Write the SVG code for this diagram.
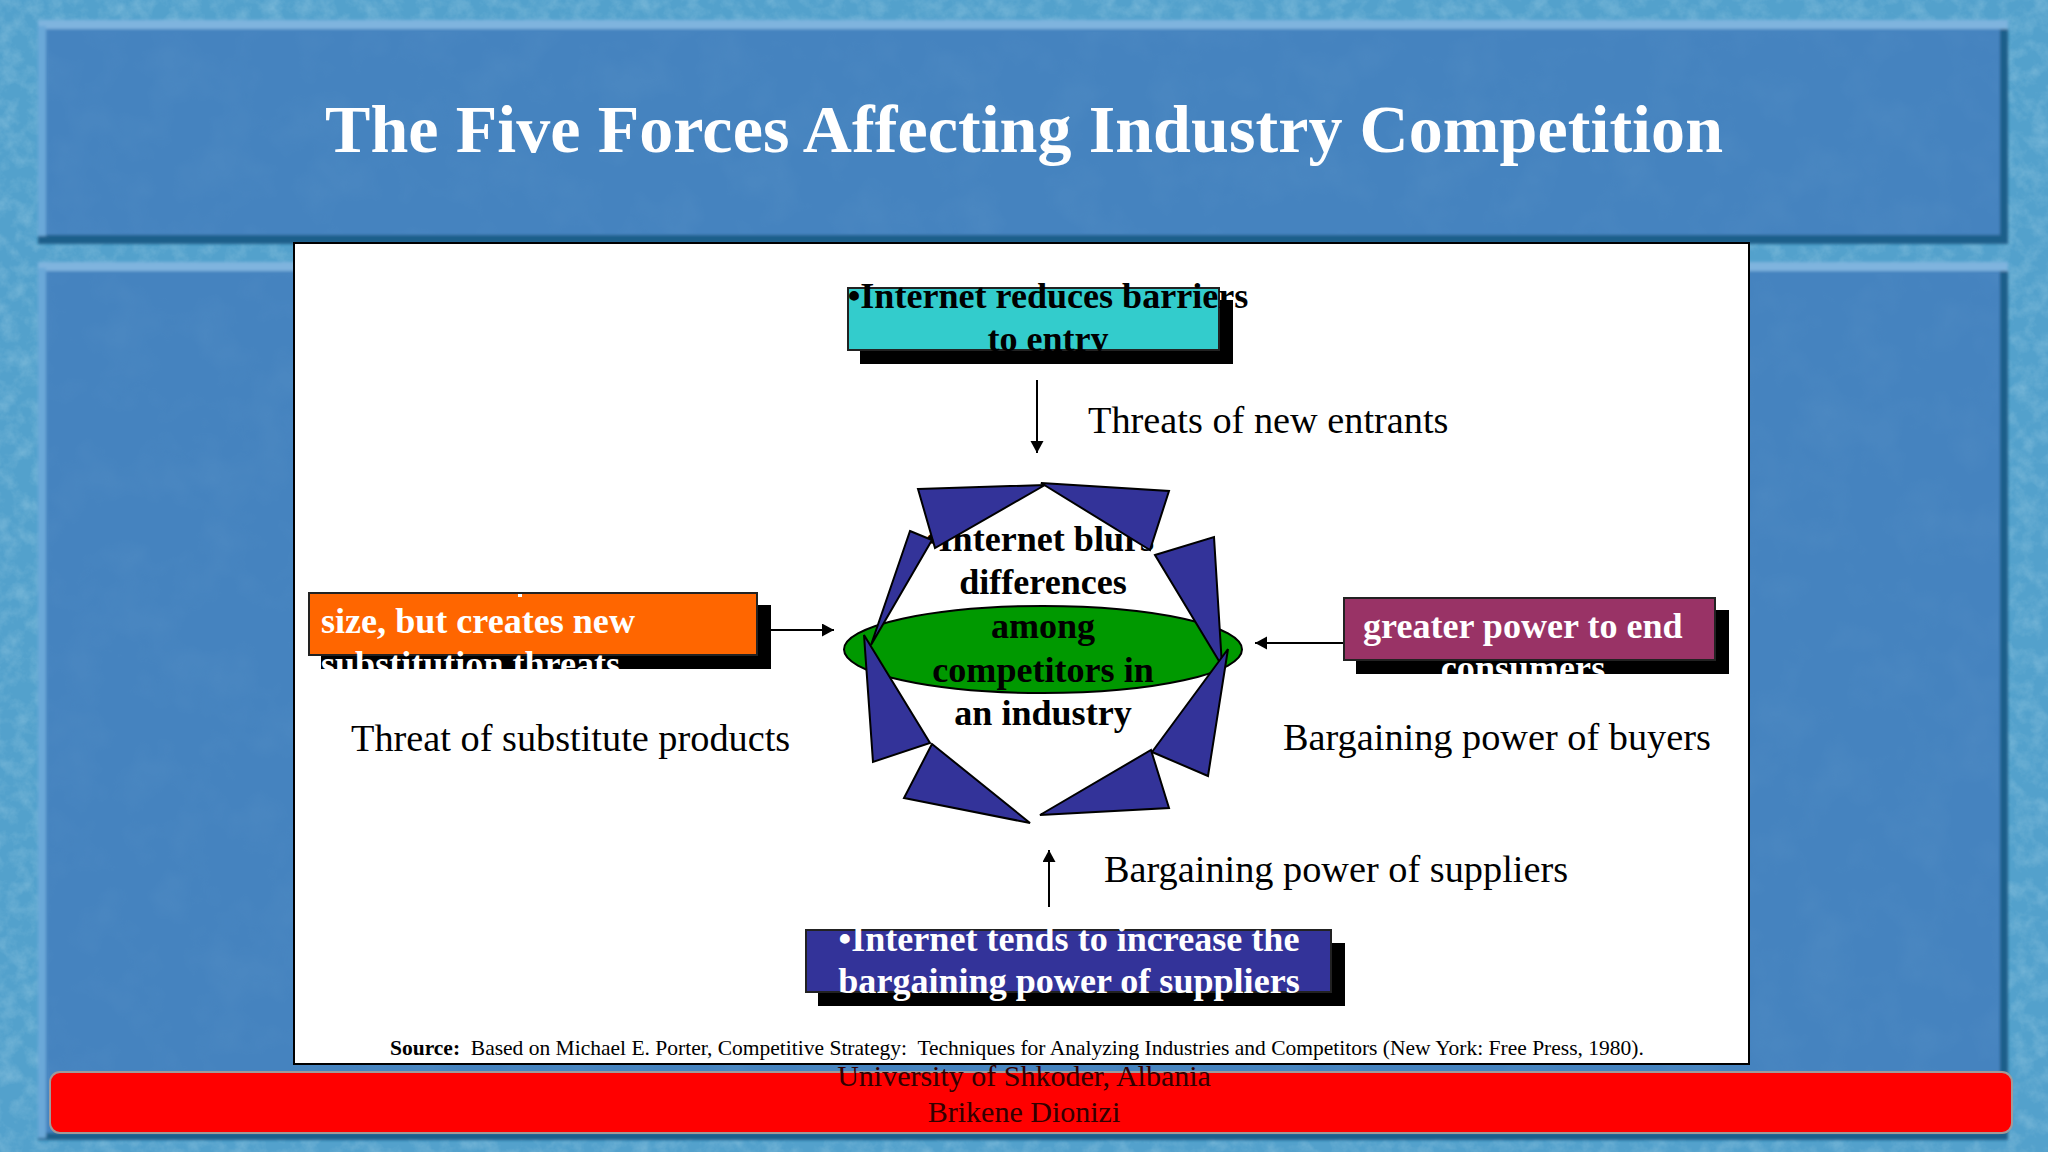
<svg xmlns="http://www.w3.org/2000/svg" width="2048" height="1152" viewBox="0 0 2048 1152">
<style>
text{font-family:"Liberation Serif","Times New Roman",serif}
.b{font-weight:bold;font-size:36.1px}
.w{fill:#fff}
.k{fill:#000}
.m{text-anchor:middle}
.l{font-size:38.3px;fill:#000}
.sh{fill:#000}
.box{stroke:#222;stroke-width:2}
.tri{fill:#333399;stroke:#000;stroke-width:2;stroke-linejoin:miter}
.conn{stroke:#000;stroke-width:2;fill:none;marker-end:url(#arrow)}
</style>
<defs>
<marker id="arrow" markerUnits="userSpaceOnUse" markerWidth="13" markerHeight="14" refX="12" refY="6.5" orient="auto"><path d="M0 0L12 6.5L0 13Z" fill="#000"/></marker>
<filter id="tex" x="0" y="0" width="100%" height="100%"><feTurbulence type="fractalNoise" baseFrequency="0.06" numOctaves="4" seed="7"/><feColorMatrix values="0 0 0 0 0.55  0 0 0 0 0.78  0 0 0 0 0.88  1.4 0 0 0 -0.55"/></filter>
<filter id="tex2" x="0" y="0" width="100%" height="100%"><feTurbulence type="fractalNoise" baseFrequency="0.02" numOctaves="3" seed="3"/><feColorMatrix values="0 0 0 0 0.2  0 0 0 0 0.42  0 0 0 0 0.66  1.2 0 0 0 -0.5"/></filter>
<filter id="soft" x="-2%" y="-2%" width="104%" height="104%"><feGaussianBlur stdDeviation="1.8"/></filter>
</defs>
<g id="background">
<rect width="2048" height="1152" fill="#53a1cc"/>
<rect width="2048" height="1152" filter="url(#tex)" opacity="0.4"/>
<g filter="url(#soft)">
<rect x="38" y="22" width="1970" height="222" fill="#1f5f8a"/>
<rect x="38" y="262" width="1970" height="878" fill="#1f5f8a"/>
<rect x="38" y="20" width="1970" height="9" fill="#7fb4de"/>
<rect x="38" y="262" width="1970" height="9" fill="#7fb4de"/>
<rect x="38" y="26" width="8" height="210" fill="#6aa8d8"/>
<rect x="38" y="268" width="8" height="870" fill="#6aa8d8"/>
<rect x="46" y="29" width="1954" height="206" fill="#4583bf"/>
<rect x="46" y="271" width="1954" height="862" fill="#4583bf"/>
</g>
<rect x="48" y="32" width="1950" height="202" filter="url(#tex2)" opacity="0.2"/>
<rect x="48" y="274" width="1950" height="858" filter="url(#tex2)" opacity="0.2"/>
</g>
<text id="title" x="1024" y="152" class="w m" font-family="Liberation Serif" font-weight="bold" font-size="68" textLength="1398" lengthAdjust="spacing">The Five Forces Affecting Industry Competition</text>
<rect id="page" x="294" y="243" width="1455" height="821" fill="#fff" stroke="#000" stroke-width="2"/>
<g id="connectors">
<line class="conn" x1="1037" y1="380" x2="1037" y2="453"/>
<line class="conn" x1="771" y1="630" x2="834" y2="630"/>
<line class="conn" x1="1345" y1="643" x2="1255" y2="643"/>
<line class="conn" x1="1049" y1="907" x2="1049" y2="850"/>
</g>
<g id="center-node">
<ellipse cx="1043" cy="649.5" rx="199" ry="43.5" fill="#009900" stroke="#000" stroke-width="2"/>
<text class="b k m" x="1040" y="551">•Internet blurs</text>
<text class="b k m" x="1043" y="594">differences</text>
<text class="b k m" x="1043" y="638">among</text>
<text class="b k m" x="1043" y="682">competitors in</text>
<text class="b k m" x="1043" y="725">an industry</text>
<polygon class="tri" points="918,489 1045,485 935,548"/>
<polygon class="tri" points="1041,483 1169,491 1150,550"/>
<polygon class="tri" points="1155,555 1214,537 1222,666"/>
<polygon class="tri" points="1228,649 1208,776 1152,752"/>
<polygon class="tri" points="1151,750 1169,808 1040,815"/>
<polygon class="tri" points="932,744 904,798 1030,823"/>
<polygon class="tri" points="864,635 873,762 930,743"/>
<polygon class="tri" points="910,531 932,540 871,645"/>
</g>
<g id="entrants-node">
<rect class="sh" x="860" y="300" width="373" height="64"/>
<rect class="box" x="848" y="288" width="371" height="62" fill="#33cccc"/>
<text class="b k m" x="1048" y="308">•Internet reduces barriers</text>
<text class="b k m" x="1048" y="351">to entry</text>
</g>
<text id="label-entrants" class="l" x="1088" y="433">Threats of new entrants</text>
<g id="substitutes-node">
<rect class="sh" x="321" y="605" width="450" height="64"/>
<rect class="box" x="309" y="593" width="448" height="62" fill="#ff6600"/>
<rect class="w" x="518" y="594" width="4" height="3"/>
<text class="b w" x="321" y="633">size, but creates new</text>
<text class="b w" x="321" y="676">substitution threats</text>
</g>
<text id="label-substitutes" class="l" x="351" y="751">Threat of substitute products</text>
<g id="buyers-node">
<rect class="sh" x="1356" y="610" width="373" height="64"/>
<rect class="box" x="1344" y="598" width="371" height="62" fill="#993366"/>
<text class="b w" x="1363" y="638">greater power to end</text>
<text class="b w m" x="1523" y="680">consumers</text>
</g>
<text id="label-buyers" class="l" x="1283" y="750">Bargaining power of buyers</text>
<text id="label-suppliers" class="l" x="1104" y="882">Bargaining power of suppliers</text>
<g id="suppliers-node">
<rect class="sh" x="818" y="943" width="527" height="63"/>
<rect class="box" x="806" y="930" width="525" height="62" fill="#333399"/>
<text class="b w m" x="1069" y="951">•Internet tends to increase the</text>
<text class="b w m" x="1069" y="993">bargaining power of suppliers</text>
</g>
<text id="source" x="390" y="1055" font-size="21.5" fill="#000"><tspan font-weight="bold">Source:</tspan><tspan xml:space="preserve">  Based on Michael E. Porter, Competitive Strategy:  Techniques for Analyzing Industries and Competitors (New York: Free Press, 1980).</tspan></text>
<g id="footer">
<rect x="50" y="1072" width="1962" height="61" rx="10" fill="#ff0000" stroke="#a09a9a" stroke-width="2"/>
<text class="m" x="1024" y="1086" font-size="30" fill="#300">University of Shkoder, Albania</text>
<text class="m" x="1024" y="1122" font-size="30" fill="#300">Brikene Dionizi</text>
</g>
</svg>
